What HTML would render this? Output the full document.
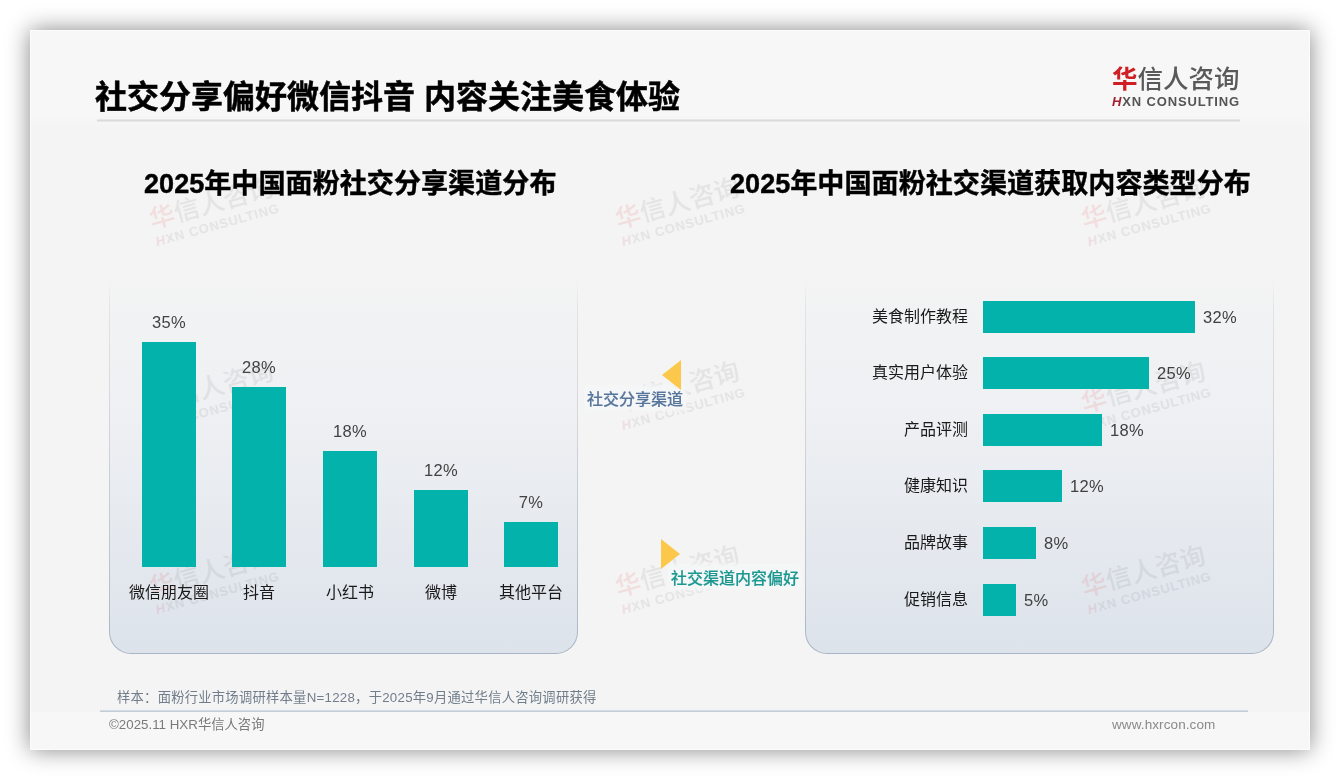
<!DOCTYPE html>
<html lang="zh-CN">
<head>
<meta charset="utf-8">
<title>社交分享偏好微信抖音 内容关注美食体验</title>
<style>
*{margin:0;padding:0;box-sizing:border-box}
html,body{width:1340px;height:780px;overflow:hidden;background:#ffffff}
body{position:relative;font-family:"Liberation Sans","Noto Sans CJK SC",sans-serif;color:#222}
.abs{position:absolute}
.slide{position:absolute;left:30px;top:30px;width:1280px;height:720px;background:#f4f4f4;
  box-shadow:0 0 22px rgba(0,0,0,.48)}
.slide::after{content:'';position:absolute;inset:0;border:1px solid rgba(255,255,255,.75);pointer-events:none}
.hdr{position:absolute;left:31px;top:31px;width:1278px;height:97px;background:linear-gradient(to bottom,#f7f7f7 0,#f7f7f7 84px,#f4f4f4 97px)}
.ftr{position:absolute;left:31px;top:712px;width:1278px;height:37px;background:#f7f7f7}
.hline{position:absolute;left:97px;top:119px;width:1143px;height:3px;background:linear-gradient(to bottom,#ededed,#dadada 50%,#ededed)}
.title{position:absolute;left:95px;top:79px;font-size:32px;line-height:36px;font-weight:700;color:#000;white-space:nowrap;-webkit-text-stroke:.5px #000;
  font-family:"Liberation Sans","Noto Sans CJK SC",sans-serif}
.logo1{position:absolute;left:1112px;top:62px;font-size:25.5px;line-height:30px;letter-spacing:0px;color:#5a5a5a;white-space:nowrap;
  font-family:"Noto Sans CJK SC",sans-serif;font-weight:500}
.logo1 .r{color:#cf1f25;font-weight:700}
.logo2{position:absolute;left:1112px;top:94px;font-size:13px;line-height:16px;font-weight:700;color:#555;letter-spacing:0.85px;white-space:nowrap}
.logo2 .r{color:#a01e2e;font-style:italic}
.ctitle{position:absolute;top:168px;font-size:27.1px;line-height:32px;font-weight:700;color:#000;white-space:nowrap;-webkit-text-stroke:.4px #000}
.panel{position:absolute;top:258px;width:469px;height:396px;border-radius:22px;padding:1px;
  background:linear-gradient(to bottom,rgba(190,196,205,0) 0%,rgba(190,196,205,0) 6%,rgba(190,196,205,.35) 12%,rgba(200,203,210,.8) 45%,#b4bfcc 85%,#a9b5c4 100%)}
.panel>div{width:100%;height:100%;border-radius:21px;background:linear-gradient(to bottom,#f4f4f4 0%,#eef0f3 40%,#dde3eb 100%)}
.wm{position:absolute;width:128px;height:48px;transform:rotate(-15.5deg);transform-origin:1px 44px;opacity:.085;white-space:nowrap}
.wm .a{position:absolute;left:0;top:0;font-family:"Noto Sans CJK SC",sans-serif;font-size:25.5px;line-height:30px;color:#444;font-weight:500}
.wm .a .r{color:#e00000}
.wm .b{position:absolute;left:0;top:32px;font-size:13px;line-height:16px;font-weight:700;letter-spacing:.85px;color:#444}
.wm .b .r{color:#b00020;font-style:italic}
.bar{position:absolute;background:#03b2ab}
.vl{position:absolute;font-size:16.5px;line-height:20px;color:#424242;letter-spacing:.4px;white-space:nowrap;text-align:center}
.cl{position:absolute;font-size:16px;line-height:20px;color:#1a1a1a;white-space:nowrap;text-align:center}
.rl{position:absolute;font-size:16px;line-height:20px;color:#1a1a1a;white-space:nowrap;text-align:right;width:120px}
.rv{position:absolute;font-size:16.5px;line-height:20px;color:#404040;letter-spacing:.3px;white-space:nowrap}
.tri{position:absolute;width:0;height:0}
.halo{background:#f5f6f7;box-shadow:0 0 4px 3px #f5f6f7}
.note{position:absolute;left:117px;top:689px;font-size:13.3px;letter-spacing:.25px;line-height:18px;color:#717d8b;white-space:nowrap}
.fline{position:absolute;left:100px;top:710px;width:1148px;height:2px;background:linear-gradient(to bottom,#dde3ea,#bac5d1)}
.fl{position:absolute;left:109px;top:716px;font-size:13.3px;letter-spacing:.02px;line-height:18px;color:#7a7a7a;white-space:nowrap}
.fr{position:absolute;left:1112px;top:716px;font-size:13.5px;letter-spacing:.1px;line-height:18px;color:#8a8a8a;white-space:nowrap}
.title,.logo1,.logo2,.ctitle,.vl,.cl,.rl,.rv,.halo,.note,.fl,.fr{will-change:transform}
</style>
</head>
<body>
<div class="slide"></div>
<div class="hdr"></div>
<div class="ftr"></div>

<!-- panels -->
<div class="panel" style="left:109px"><div></div></div>
<div class="panel" style="left:805px"><div></div></div>

<!-- watermarks -->
<div class="wm" style="left:157px;top:202px"><div class="a"><span class="r">华</span>信人咨询</div><div class="b"><span class="r">H</span>XN CONSULTING</div></div>
<div class="wm" style="left:623px;top:202px"><div class="a"><span class="r">华</span>信人咨询</div><div class="b"><span class="r">H</span>XN CONSULTING</div></div>
<div class="wm" style="left:1089px;top:202px"><div class="a"><span class="r">华</span>信人咨询</div><div class="b"><span class="r">H</span>XN CONSULTING</div></div>
<div class="wm" style="left:157px;top:386px"><div class="a"><span class="r">华</span>信人咨询</div><div class="b"><span class="r">H</span>XN CONSULTING</div></div>
<div class="wm" style="left:623px;top:386px"><div class="a"><span class="r">华</span>信人咨询</div><div class="b"><span class="r">H</span>XN CONSULTING</div></div>
<div class="wm" style="left:1089px;top:386px"><div class="a"><span class="r">华</span>信人咨询</div><div class="b"><span class="r">H</span>XN CONSULTING</div></div>
<div class="wm" style="left:157px;top:570px"><div class="a"><span class="r">华</span>信人咨询</div><div class="b"><span class="r">H</span>XN CONSULTING</div></div>
<div class="wm" style="left:623px;top:570px"><div class="a"><span class="r">华</span>信人咨询</div><div class="b"><span class="r">H</span>XN CONSULTING</div></div>
<div class="wm" style="left:1089px;top:570px"><div class="a"><span class="r">华</span>信人咨询</div><div class="b"><span class="r">H</span>XN CONSULTING</div></div>

<div class="hline"></div>
<div class="title">社交分享偏好微信抖音 内容关注美食体验</div>
<div class="logo1"><span class="r">华</span>信人咨询</div>
<div class="logo2"><span class="r">H</span>XN CONSULTING</div>

<div class="ctitle" style="left:144px">2025年中国面粉社交分享渠道分布</div>
<div class="ctitle" style="left:730px">2025年中国面粉社交渠道获取内容类型分布</div>

<!-- left chart -->
<div class="bar" style="left:142px;top:342px;width:54px;height:225px"></div>
<div class="bar" style="left:232px;top:387px;width:54px;height:180px"></div>
<div class="bar" style="left:323px;top:451px;width:54px;height:116px"></div>
<div class="bar" style="left:414px;top:490px;width:54px;height:77px"></div>
<div class="bar" style="left:504px;top:522px;width:54px;height:45px"></div>
<div class="vl" style="left:129px;top:312px;width:80px">35%</div>
<div class="vl" style="left:219px;top:357px;width:80px">28%</div>
<div class="vl" style="left:310px;top:421px;width:80px">18%</div>
<div class="vl" style="left:401px;top:460px;width:80px">12%</div>
<div class="vl" style="left:491px;top:492px;width:80px">7%</div>
<div class="cl" style="left:119px;top:583px;width:100px">微信朋友圈</div>
<div class="cl" style="left:209px;top:583px;width:100px">抖音</div>
<div class="cl" style="left:300px;top:583px;width:100px">小红书</div>
<div class="cl" style="left:391px;top:583px;width:100px">微博</div>
<div class="cl" style="left:481px;top:583px;width:100px">其他平台</div>

<!-- middle -->
<div class="abs halo" style="left:587px;top:388px;font-size:16px;line-height:20px;color:#56759b;font-weight:500;-webkit-text-stroke:.15px #56759b;white-space:nowrap;font-family:'Noto Sans CJK SC',sans-serif">社交分享渠道</div>
<div class="abs halo" style="left:671px;top:567px;font-size:16px;line-height:20px;color:#1a9890;font-weight:500;-webkit-text-stroke:.15px #1a9890;white-space:nowrap;font-family:'Noto Sans CJK SC',sans-serif">社交渠道内容偏好</div>
<div class="tri" style="left:662px;top:360px;border-top:15px solid transparent;border-bottom:15px solid transparent;border-right:19px solid #fcc84c"></div>
<div class="tri" style="left:661px;top:539px;border-top:15px solid transparent;border-bottom:15px solid transparent;border-left:19px solid #fcc84c"></div>

<!-- right chart -->
<div class="bar" style="left:983px;top:301px;width:212px;height:32px"></div>
<div class="bar" style="left:983px;top:357px;width:166px;height:32px"></div>
<div class="bar" style="left:983px;top:414px;width:119px;height:32px"></div>
<div class="bar" style="left:983px;top:470px;width:79px;height:32px"></div>
<div class="bar" style="left:983px;top:527px;width:53px;height:32px"></div>
<div class="bar" style="left:983px;top:584px;width:33px;height:32px"></div>
<div class="rl" style="left:848px;top:307px">美食制作教程</div>
<div class="rl" style="left:848px;top:363px">真实用户体验</div>
<div class="rl" style="left:848px;top:420px">产品评测</div>
<div class="rl" style="left:848px;top:476px">健康知识</div>
<div class="rl" style="left:848px;top:533px">品牌故事</div>
<div class="rl" style="left:848px;top:590px">促销信息</div>
<div class="rv" style="left:1203px;top:307px">32%</div>
<div class="rv" style="left:1157px;top:363px">25%</div>
<div class="rv" style="left:1110px;top:420px">18%</div>
<div class="rv" style="left:1070px;top:476px">12%</div>
<div class="rv" style="left:1044px;top:533px">8%</div>
<div class="rv" style="left:1024px;top:590px">5%</div>

<!-- footer -->
<div class="note">样本：面粉行业市场调研样本量N=1228，于2025年9月通过华信人咨询调研获得</div>
<div class="fline"></div>
<div class="fl">©2025.11 HXR华信人咨询</div>
<div class="fr">www.hxrcon.com</div>
</body>
</html>
